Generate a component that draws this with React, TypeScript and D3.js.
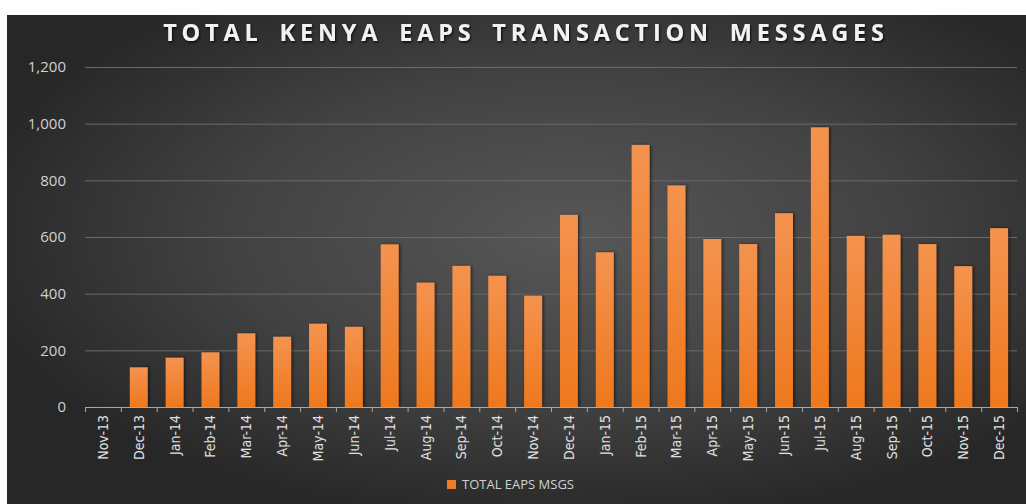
import React from 'react';
import * as d3 from 'd3';

const months = [
    'Nov-13', 'Dec-13', 'Jan-14', 'Feb-14', 'Mar-14', 'Apr-14', 'May-14', 'Jun-14', 'Jul-14',
    'Aug-14', 'Sep-14', 'Oct-14', 'Nov-14', 'Dec-14', 'Jan-15', 'Feb-15', 'Mar-15', 'Apr-15',
    'May-15', 'Jun-15', 'Jul-15', 'Aug-15', 'Sep-15', 'Oct-15', 'Nov-15', 'Dec-15',
];
const totalMsgs = [
    0, 140, 174, 193, 260, 248, 294, 283, 574,
    439, 498, 463, 393, 678, 546, 925, 782, 593,
    575, 684, 987, 604, 608, 575, 497, 631,
];
const yTicks = [0, 200, 400, 600, 800, 1000, 1200];
const seriesName = 'TOTAL EAPS MSGS';
const title = 'TOTAL KENYA EAPS TRANSACTION MESSAGES';

const App: React.FC = () => {
    const width = 1026;
    const height = 504;
    const left = 85;
    const right = 1017;
    const top = 67;
    const bottom = 407;

    const x = d3.scaleBand<string>().domain(months).range([left, right]).paddingInner(0.5).paddingOuter(0.25);
    const xTickBand = d3.scaleBand<string>().domain(months).range([left, right]);
    const y = d3.scaleLinear().domain([0, 1200]).range([bottom, top]);
    const fmt = d3.format(',');

    return (
        <svg width={width} height={height} style={{ position: 'absolute', left: 0, top: 0 }}>
            <defs>
                <radialGradient id="bg" cx="55%" cy="45%" r="60%">
                    <stop offset="0%" stopColor="#575757" />
                    <stop offset="55%" stopColor="#424242" />
                    <stop offset="100%" stopColor="#272727" />
                </radialGradient>
                <linearGradient id="bar" x1="0" y1="0" x2="0" y2="1">
                    <stop offset="0%" stopColor="#f4934f" />
                    <stop offset="100%" stopColor="#ee781d" />
                </linearGradient>
                <filter id="shadow" x="-30%" y="-10%" width="160%" height="120%">
                    <feDropShadow dx="1.5" dy="0" stdDeviation="1.5" floodColor="#000" floodOpacity="0.55" />
                </filter>
                <filter id="tshadow">
                    <feDropShadow dx="1" dy="1.5" stdDeviation="1.2" floodColor="#000" floodOpacity="0.8" />
                </filter>
            </defs>
            <rect x={0} y={0} width={width} height={height} fill="#ffffff" />
            <rect x={7} y={15} width={width - 7} height={height - 15} fill="url(#bg)" />

            <text x={526} y={41} textAnchor="middle" fill="#f2f2f2" fontFamily="'Open Sans', sans-serif"
                fontWeight={700} fontSize={23.5} letterSpacing={4.8} wordSpacing={6} filter="url(#tshadow)">
                {title}
            </text>

            {yTicks.map(t => (
                <g key={t}>
                    {t > 0 && (
                        <line x1={left} x2={right} y1={y(t) + 0.5} y2={y(t) + 0.5} stroke="#6a6a6a" strokeWidth={1} />
                    )}
                    <text x={66} y={y(t)} dy="0.35em" textAnchor="end" fill="#d0d0d0"
                        fontFamily="'Open Sans', sans-serif" fontSize={15}>
                        {fmt(t)}
                    </text>
                </g>
            ))}

            {months.map((m, i) => (
                <rect key={m} x={x(m)} y={y(totalMsgs[i])} width={x.bandwidth()}
                    height={bottom - y(totalMsgs[i])} fill="url(#bar)" filter="url(#shadow)" />
            ))}

            <line x1={left} x2={right} y1={bottom + 0.5} y2={bottom + 0.5} stroke="#a8a8a8" strokeWidth={1} />
            {[...months.map(m => xTickBand(m) as number), right].map((tx, i) => (
                <line key={i} x1={tx + 0.5} x2={tx + 0.5} y1={bottom} y2={bottom + 5} stroke="#a8a8a8" strokeWidth={1} />
            ))}
            {months.map(m => {
                const cx = (xTickBand(m) as number) + xTickBand.bandwidth() / 2;
                return (
                    <text key={m} transform={`translate(${cx + 5},${bottom + 8}) rotate(-90)`} textAnchor="end"
                        fill="#e0e0e0" fontFamily="'Liberation Sans Narrow', 'DejaVu Sans Condensed', sans-serif"
                        fontStretch="condensed" fontSize={14}>
                        {m}
                    </text>
                );
            })}

            <rect x={447} y={480} width={9} height={9} fill="#ef7d27" />
            <text x={462} y={489} fill="#d0d0d0" fontFamily="'Open Sans', sans-serif" fontSize={13}>
                {seriesName}
            </text>
        </svg>
    );
};

export default App;
